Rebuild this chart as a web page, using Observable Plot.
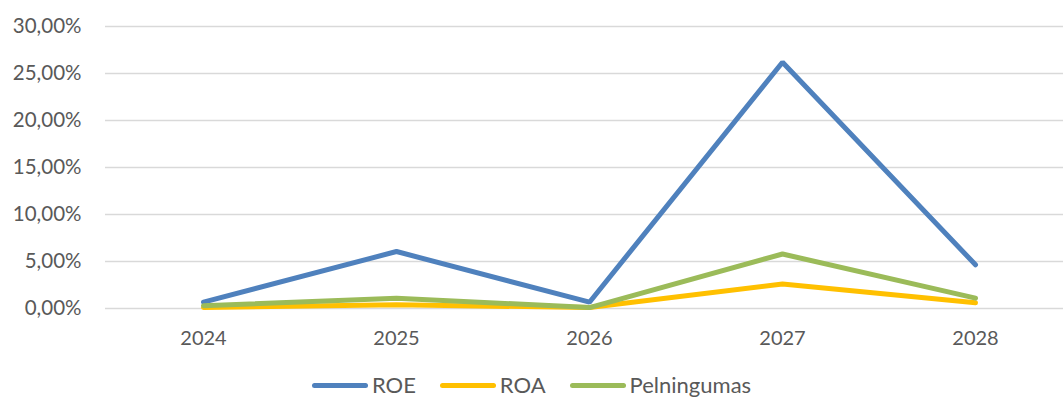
<!DOCTYPE html>
<html>
<head>
<meta charset="utf-8">
<script src="https://cdn.jsdelivr.net/npm/d3@7"></script>
<script src="https://cdn.jsdelivr.net/npm/@observablehq/plot@0.6"></script>
<style>
  html, body { margin: 0; padding: 0; background: #fff; overflow: hidden; width: 1063px; height: 401px; }
  #chart { position: relative; width: 1063px; height: 401px; overflow: hidden; font-family: Lato, "Open Sans", sans-serif; }
  #chart svg { max-width: none !important; }
  #legend { position: absolute; left: 0; top: 372px; width: 1063px; display: flex; justify-content: center; align-items: center; font-size: 22px; line-height: 26px; color: #595959; }
  .item { display: flex; align-items: center; margin: 0 12px; }
  .sw { width: 56px; height: 5px; border-radius: 3px; margin-right: 4px; }
</style>
</head>
<body>
<div id="chart"></div>
<script>
const years = ["2024", "2025", "2026", "2027", "2028"];
const seriesNames = ["ROE", "ROA", "Pelningumas"];
const roe = [0.0067, 0.0606, 0.0067, 0.262, 0.0465];
const roa = [0.001, 0.004, 0.001, 0.026, 0.006];
const pelningumas = [0.003, 0.011, 0.001, 0.058, 0.011];
const colors = ["#4F81BD", "#FFC000", "#9BBB59"];
const yTicks = [0, 0.05, 0.10, 0.15, 0.20, 0.25, 0.30];

const valuesBySeries = [roe, roa, pelningumas];
const data = [];
seriesNames.forEach((s, i) => years.forEach((y, j) => data.push({series: s, year: y, value: valuesBySeries[i][j]})));

const fmt = v => d3.format(".2%")(v).replace(".", ",");

const plot = Plot.plot({
  width: 1073,
  height: 362,
  marginTop: 26,
  marginBottom: 54,
  marginLeft: 105,
  marginRight: 0,
  style: {fontFamily: "Lato, 'Open Sans', sans-serif", fontSize: "20px", color: "#595959", overflow: "visible", maxWidth: "none"},
  x: {type: "point", domain: years, padding: 0.5, label: null},
  y: {domain: [0, 0.30], ticks: yTicks, label: null},
  color: {domain: seriesNames, range: colors},
  marks: [
    Plot.gridY(yTicks, {stroke: "#d9d9d9", strokeOpacity: 1, strokeWidth: 1.5}),
    Plot.axisY(yTicks, {tickSize: 0, tickPadding: 24, tickFormat: fmt, fill: "#595959", fontSize: 20.5}),
    Plot.axisX({tickSize: 0, tickPadding: 22, fill: "#595959", fontSize: 20, label: null}),
    Plot.line(data, {x: "year", y: "value", z: "series", stroke: "series", strokeWidth: 5, strokeLinejoin: "miter", strokeLinecap: "round"})
  ]
});
document.getElementById("chart").appendChild(plot);

const legend = document.createElement("div");
legend.id = "legend";
seriesNames.forEach((s, i) => {
  const it = document.createElement("div");
  it.className = "item";
  const sw = document.createElement("div");
  sw.className = "sw";
  sw.style.background = colors[i];
  const tx = document.createElement("span");
  tx.textContent = s;
  it.appendChild(sw); it.appendChild(tx);
  legend.appendChild(it);
});
document.getElementById("chart").appendChild(legend);
</script>
</body>
</html>
